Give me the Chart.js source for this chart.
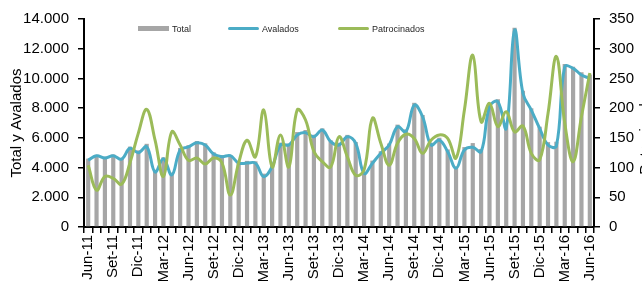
<!DOCTYPE html>
<html><head><meta charset="utf-8">
<script src="https://cdn.jsdelivr.net/npm/chart.js@4.4.1/dist/chart.umd.min.js"></script>
<style>
html,body{margin:0;padding:0;background:#fff;overflow:hidden}
#wrap{position:relative;width:642px;height:281px}
#c{display:block}
.lg{position:absolute;top:22px;height:13px;font:9px "Liberation Sans",Arial,sans-serif;color:#262626;display:flex;align-items:center;white-space:nowrap}
.sw{display:inline-block;width:31px;margin-right:3px}
</style></head><body>
<div id="wrap"><canvas id="c" width="642" height="281"></canvas><div id="legend"></div></div>
<script>
const categories = [
 "Jun-11","Jul-11","Ago-11","Set-11","Oct-11","Nov-11","Dic-11","Ene-12","Feb-12","Mar-12","Abr-12","May-12",
 "Jun-12","Jul-12","Ago-12","Set-12","Oct-12","Nov-12","Dic-12","Ene-13","Feb-13","Mar-13","Abr-13","May-13",
 "Jun-13","Jul-13","Ago-13","Set-13","Oct-13","Nov-13","Dic-13","Ene-14","Feb-14","Mar-14","Abr-14","May-14",
 "Jun-14","Jul-14","Ago-14","Set-14","Oct-14","Nov-14","Dic-14","Ene-15","Feb-15","Mar-15","Abr-15","May-15",
 "Jun-15","Jul-15","Ago-15","Set-15","Oct-15","Nov-15","Dic-15","Ene-16","Feb-16","Mar-16","Abr-16","May-16",
 "Jun-16"];
const totalValues = [
 4600,4860,4730,4880,4640,5410,5160,5600,3850,4690,3660,5320,
 5510,5790,5630,5030,4840,4850,4410,4450,4420,3590,4160,5680,
 5620,6390,6530,6210,6640,5840,5670,6200,5720,3710,4470,5100,
 5620,6890,6570,8360,7540,5670,6010,5220,4070,5380,5650,5250,
 8310,8600,6830,13410,9170,7990,6750,5710,5740,10970,10790,10420,
 10270];
const avaladosValues = [
 4500,4800,4640,4800,4570,5300,5000,5400,3700,4600,3500,5180,
 5400,5670,5520,4910,4730,4800,4300,4300,4300,3390,4060,5520,
 5520,6190,6350,6080,6530,5740,5520,6080,5630,3610,4290,4960,
 5520,6750,6410,8210,7420,5520,5850,5070,3950,5180,5360,5070,
 8100,8430,6640,13250,9000,7870,6640,5520,5450,10790,10680,10230,
 10010];
const patrocinadosValues = [
 104,62,85,82,72,108,158,198,146,85,160,138,
 112,116,106,116,108,54,108,146,118,197,101,155,
 101,197,180,127,110,101,152,118,87,96,183,141,
 104,141,156,149,124,146,155,149,116,197,289,177,
 208,169,194,160,170,124,113,191,287,175,110,186,
 259];
const seriesNames = ["Total","Avalados","Patrocinados"];
const leftAxisTitle = "Total y Avalados";
const rightAxisTitle = "Patrocinados";

const FONT = '"Liberation Sans", Arial, sans-serif';
const fmt = v => String(v).replace(/\B(?=(\d{3})+(?!\d))/g, '.');

const rightTitlePlugin = {
  id: 'rightTitle',
  afterDraw(chart) {
    const ctx = chart.ctx, a = chart.chartArea;
    ctx.save();
    ctx.translate(650, (a.top + a.bottom) / 2 + 8);
    ctx.rotate(-Math.PI / 2);
    ctx.font = '15px ' + FONT;
    ctx.fillStyle = '#000';
    ctx.textAlign = 'center';
    ctx.textBaseline = 'alphabetic';
    ctx.fillText(rightAxisTitle, 0, 0);
    ctx.restore();
  }
};

const chart = new Chart(document.getElementById('c'), {
  data: {
    labels: categories,
    datasets: [
      { type: 'bar', label: seriesNames[0], data: totalValues, backgroundColor: '#a6a6a6',
        barPercentage: 0.5, categoryPercentage: 1, yAxisID: 'y', order: 3 },
      { type: 'line', label: seriesNames[1], data: avaladosValues, borderColor: '#4bacc6',
        backgroundColor: '#4bacc6', borderWidth: 3, pointRadius: 0, tension: 0.4, fill: false, yAxisID: 'y', order: 2 },
      { type: 'line', label: seriesNames[2], data: patrocinadosValues, borderColor: '#9bbb59',
        backgroundColor: '#9bbb59', borderWidth: 3, pointRadius: 0, tension: 0.4, fill: false, yAxisID: 'y1', order: 1 }
    ]
  },
  options: {
    responsive: false, animation: false, devicePixelRatio: 1,
    layout: { padding: { top: 19, left: 0, right: 0, bottom: 0 } },
    plugins: { legend: { display: false }, tooltip: { enabled: false } },
    scales: {
      x: {
        offset: true,
        grid: { display: true, drawOnChartArea: false, offset: true, tickLength: 6, color: '#000', lineWidth: 1.5 },
        border: { color: '#000', width: 2 },
        ticks: { autoSkip: false, minRotation: 90, maxRotation: 90, padding: 2, color: '#000',
          font: { size: 15, family: FONT },
          callback: (v, i) => (i % 3 === 0 ? categories[i] : '') },
        afterFit: s => { s.height = 54; }
      },
      y: {
        position: 'left', min: 0, max: 14000,
        grid: { display: true, drawOnChartArea: false, tickLength: 6, color: '#000', lineWidth: 1.5 },
        border: { color: '#000', width: 2 },
        ticks: { stepSize: 2000, padding: 9, color: '#000', font: { size: 15, family: FONT }, callback: v => fmt(v) },
        title: { display: true, text: leftAxisTitle, color: '#000', font: { size: 15, family: FONT }, padding: { top: 8, bottom: 0 } },
        afterFit: s => { s.width = 84; }
      },
      y1: {
        position: 'right', min: 0, max: 350,
        grid: { display: true, drawOnChartArea: false, tickLength: 6, color: '#000', lineWidth: 1.5 },
        border: { color: '#000', width: 2 },
        ticks: { stepSize: 50, padding: 9, color: '#000', font: { size: 15, family: FONT } },
        afterFit: s => { s.width = 48; }
      }
    }
  },
  plugins: [rightTitlePlugin]
});

// HTML legend built from the chart's datasets
const legendLeft = [138, 228, 338];
const legend = document.getElementById('legend');
chart.data.datasets.forEach((ds, i) => {
  const item = document.createElement('div');
  item.className = 'lg';
  item.style.left = legendLeft[i] + 'px';
  const sw = document.createElement('span');
  sw.className = 'sw';
  sw.style.background = ds.type === 'bar' ? ds.backgroundColor : ds.borderColor;
  sw.style.height = ds.type === 'bar' ? '5px' : '3px';
  if (ds.type !== 'bar') sw.style.borderRadius = '2px';
  item.appendChild(sw);
  item.appendChild(document.createTextNode(ds.label));
  legend.appendChild(item);
});
</script>
</body></html>
